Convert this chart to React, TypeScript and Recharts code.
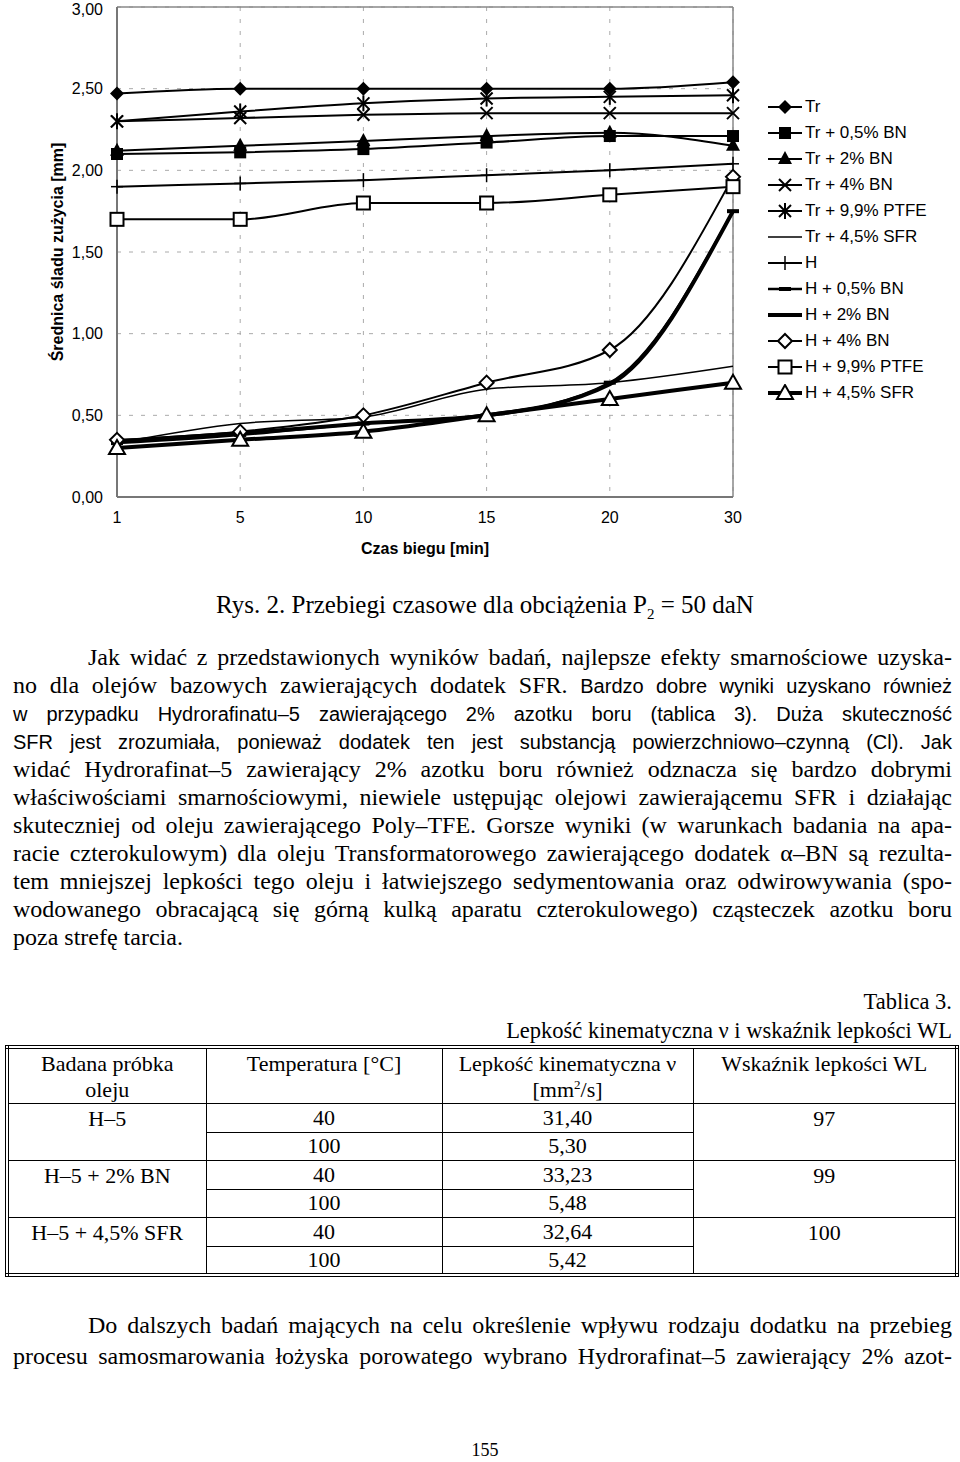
import { LineChart, Line, XAxis, YAxis, CartesianGrid, ReferenceLine } from "recharts";

const times = ["1", "5", "10", "15", "20", "30"];
const yTicks = [0, 0.5, 1, 1.5, 2, 2.5, 3];

const tr = [2.47, 2.5, 2.5, 2.5, 2.5, 2.54];
const tr05BN = [2.1, 2.11, 2.13, 2.17, 2.21, 2.21];
const tr2BN = [2.12, 2.15, 2.18, 2.21, 2.23, 2.15];
const tr4BN = [2.3, 2.32, 2.34, 2.35, 2.35, 2.35];
const tr99PTFE = [2.3, 2.36, 2.41, 2.44, 2.45, 2.46];
const tr45SFR = [0.33, 0.45, 0.49, 0.66, 0.7, 0.8];
const h = [1.9, 1.92, 1.94, 1.97, 2.0, 2.04];
const h05BN = [0.33, 0.38, 0.45, 0.5, 0.7, 1.75];
const h2BN = [0.34, 0.39, 0.45, 0.5, 0.69, 1.75];
const h4BN = [0.35, 0.4, 0.5, 0.7, 0.9, 1.96];
const h99PTFE = [1.7, 1.7, 1.8, 1.8, 1.85, 1.9];
const h45SFR = [0.3, 0.35, 0.4, 0.5, 0.6, 0.7];

const series = [
  { key: "tr", label: "Tr", values: tr, marker: "diamondFill", width: 2 },
  { key: "tr05BN", label: "Tr + 0,5% BN", values: tr05BN, marker: "squareFill", width: 2 },
  { key: "tr2BN", label: "Tr + 2% BN", values: tr2BN, marker: "triangleFill", width: 2 },
  { key: "tr4BN", label: "Tr + 4% BN", values: tr4BN, marker: "x", width: 2 },
  { key: "tr99PTFE", label: "Tr + 9,9% PTFE", values: tr99PTFE, marker: "star", width: 2 },
  { key: "tr45SFR", label: "Tr + 4,5% SFR", values: tr45SFR, marker: "none", width: 1.5 },
  { key: "h", label: "H", values: h, marker: "plus", width: 2 },
  { key: "h05BN", label: "H + 0,5% BN", values: h05BN, marker: "dash", width: 2.5 },
  { key: "h2BN", label: "H + 2% BN", values: h2BN, marker: "none", width: 4 },
  { key: "h4BN", label: "H + 4% BN", values: h4BN, marker: "diamondOpen", width: 2 },
  { key: "h99PTFE", label: "H + 9,9% PTFE", values: h99PTFE, marker: "squareOpen", width: 2 },
  { key: "h45SFR", label: "H + 4,5% SFR", values: h45SFR, marker: "triangleOpen", width: 4 },
];

const data = times.map((t, i) => {
  const row: any = { t };
  series.forEach((s) => (row[s.key] = s.values[i]));
  return row;
});

const Marker = ({ kind, cx, cy }: { kind: string; cx: number; cy: number }) => {
  if (cx == null || cy == null) return null;
  switch (kind) {
    case "diamondFill":
      return <polygon points={`${cx},${cy - 7} ${cx + 7},${cy} ${cx},${cy + 7} ${cx - 7},${cy}`} fill="#000" />;
    case "squareFill":
      return <rect x={cx - 6} y={cy - 6} width={12} height={12} fill="#000" />;
    case "triangleFill":
      return <polygon points={`${cx},${cy - 8} ${cx + 7},${cy + 5} ${cx - 7},${cy + 5}`} fill="#000" />;
    case "x":
      return (
        <g stroke="#000" strokeWidth={2}>
          <line x1={cx - 6} y1={cy - 6} x2={cx + 6} y2={cy + 6} />
          <line x1={cx - 6} y1={cy + 6} x2={cx + 6} y2={cy - 6} />
        </g>
      );
    case "star":
      return (
        <g stroke="#000" strokeWidth={2}>
          <line x1={cx - 6} y1={cy - 6} x2={cx + 6} y2={cy + 6} />
          <line x1={cx - 6} y1={cy + 6} x2={cx + 6} y2={cy - 6} />
          <line x1={cx} y1={cy - 8} x2={cx} y2={cy + 8} />
        </g>
      );
    case "plus":
      return (
        <g stroke="#000" strokeWidth={1.5}>
          <line x1={cx} y1={cy - 7} x2={cx} y2={cy + 7} />
          <line x1={cx - 6} y1={cy} x2={cx + 6} y2={cy} />
        </g>
      );
    case "dash":
      return <rect x={cx - 6} y={cy - 2} width={12} height={4} fill="#000" />;
    case "diamondOpen":
      return (
        <polygon
          points={`${cx},${cy - 7} ${cx + 7},${cy} ${cx},${cy + 7} ${cx - 7},${cy}`}
          fill="#fff"
          stroke="#000"
          strokeWidth={2}
        />
      );
    case "squareOpen":
      return <rect x={cx - 6.5} y={cy - 6.5} width={13} height={13} fill="#fff" stroke="#000" strokeWidth={2} />;
    case "triangleOpen":
      return (
        <polygon
          points={`${cx},${cy - 8} ${cx + 8},${cy + 6} ${cx - 8},${cy + 6}`}
          fill="#fff"
          stroke="#000"
          strokeWidth={2}
        />
      );
    default:
      return null;
  }
};

const Chart = () => (
  <div style={{ position: "absolute", left: 0, top: 0, fontFamily: "'Liberation Sans', Arial, sans-serif" }}>
    <LineChart width={760} height={560} data={data} margin={{ top: 7, right: 27, left: 0, bottom: 3 }}>
      <CartesianGrid stroke="#aaa" strokeDasharray="4 8" />
      <XAxis
        dataKey="t"
        scale="point"
        padding={{ left: 0, right: 0 }}
        axisLine={{ stroke: "#777", strokeWidth: 2 }}
        tickLine={false}
        tick={{ fill: "#000", fontSize: 16 }}
        tickMargin={9}
        height={60}
      />
      <YAxis
        domain={[0, 3]}
        ticks={yTicks}
        tickFormatter={(v: number) => v.toFixed(2).replace(".", ",")}
        axisLine={{ stroke: "#777", strokeWidth: 2 }}
        tickLine={false}
        tick={{ fill: "#000", fontSize: 16 }}
        tickMargin={8}
        width={117}
      />
      <ReferenceLine y={3} stroke="#888" strokeWidth={1.5} />
      <ReferenceLine x="30" stroke="#888" strokeWidth={1.5} />
      {series.map((s) => (
        <Line
          key={s.key}
          type="monotone"
          dataKey={s.key}
          stroke="#000"
          strokeWidth={s.width}
          isAnimationActive={false}
          dot={
            s.marker === "none"
              ? false
              : (p: any) => <Marker key={`${s.key}-${p.index}`} kind={s.marker} cx={p.cx} cy={p.cy} />
          }
          activeDot={false}
        />
      ))}
    </LineChart>
    <div
      style={{
        position: "absolute",
        left: 58,
        top: 252,
        transform: "translate(-50%, -50%) rotate(-90deg)",
        whiteSpace: "nowrap",
        fontWeight: "bold",
        fontSize: 16,
      }}
    >
      Średnica śladu zużycia [mm]
    </div>
    <div
      style={{
        position: "absolute",
        left: 425,
        top: 549,
        transform: "translate(-50%, -50%)",
        whiteSpace: "nowrap",
        fontWeight: "bold",
        fontSize: 16,
      }}
    >
      Czas biegu [min]
    </div>
    <div style={{ position: "absolute", left: 766, top: 94 }}>
      {series.map((s) => (
        <div key={s.key} style={{ display: "flex", alignItems: "center", height: 26 }}>
          <svg width={38} height={18}>
            <line x1={2} y1={9} x2={36} y2={9} stroke="#000" strokeWidth={s.width} />
            <Marker kind={s.marker} cx={19} cy={9} />
          </svg>
          <span style={{ fontSize: 17, marginLeft: 1, whiteSpace: "nowrap" }}>{s.label}</span>
        </div>
      ))}
    </div>
  </div>
);

const sans = { fontFamily: "'Liberation Sans Narrow', 'Arial Narrow', 'Liberation Sans', sans-serif", fontSize: 20 };

const TextLine = ({ top, indent, last, children }: any) => (
  <div
    style={{
      position: "absolute",
      left: 13,
      width: 939 - (indent ? 75 : 0),
      paddingLeft: indent ? 75 : 0,
      top,
      height: 28,
      lineHeight: "28px",
      fontSize: 24,
      whiteSpace: "nowrap",
      textAlign: last ? "left" : "justify",
      textAlignLast: last ? "left" : "justify",
    }}
  >
    {children}
  </div>
);

const cell: any = {
  border: "1px solid #000",
  textAlign: "center",
  verticalAlign: "top",
  padding: "2px 4px 0",
  lineHeight: "26px",
};
const numCell: any = { ...cell, padding: 0, verticalAlign: "middle" };

const App = () => {
  const p1 = [
    <>Jak widać z przedstawionych wyników badań, najlepsze efekty smarnościowe uzyska-</>,
    <>
      no dla olejów bazowych zawierających dodatek SFR. <span style={sans}>Bardzo dobre wyniki uzyskano również</span>
    </>,
    <span style={sans}>w przypadku Hydrorafinatu–5 zawierającego 2% azotku boru (tablica 3). Duża skuteczność</span>,
    <span style={sans}>SFR jest zrozumiała, ponieważ dodatek ten jest substancją powierzchniowo–czynną (Cl). Jak</span>,
    <>widać Hydrorafinat–5 zawierający 2% azotku boru również odznacza się bardzo dobrymi</>,
    <>właściwościami smarnościowymi, niewiele ustępując olejowi zawierającemu SFR i działając</>,
    <>skuteczniej od oleju zawierającego Poly–TFE. Gorsze wyniki (w warunkach badania na apa-</>,
    <>racie czterokulowym) dla oleju Transformatorowego zawierającego dodatek α–BN są rezulta-</>,
    <>tem mniejszej lepkości tego oleju i łatwiejszego sedymentowania oraz odwirowywania (spo-</>,
    <>wodowanego obracającą się górną kulką aparatu czterokulowego) cząsteczek azotku boru</>,
    <>poza strefę tarcia.</>,
  ];
  const rows = [
    ["H–5", "40", "31,40", "97", "100", "5,30"],
    ["H–5 + 2% BN", "40", "33,23", "99", "100", "5,48"],
    ["H–5 + 4,5% SFR", "40", "32,64", "100", "100", "5,42"],
  ];
  return (
    <div
      style={{
        position: "relative",
        width: 960,
        height: 1462,
        background: "#fff",
        color: "#000",
        fontFamily: "'Liberation Serif', 'Times New Roman', serif",
        overflow: "hidden",
      }}
    >
      <style>{"body{margin:0}"}</style>
      <Chart />
      <div
        style={{ position: "absolute", left: 0, width: 970, top: 590, textAlign: "center", fontSize: 25, lineHeight: "30px" }}
      >
        Rys. 2. Przebiegi czasowe dla obciążenia P<sub style={{ fontSize: 15, lineHeight: 0 }}>2</sub> = 50 daN
      </div>
      {p1.map((c, i) => (
        <TextLine key={i} top={643 + i * 28} indent={i === 0} last={i === p1.length - 1}>
          {c}
        </TextLine>
      ))}
      <div style={{ position: "absolute", right: 8, top: 988, fontSize: 22.5, lineHeight: "28px" }}>Tablica 3.</div>
      <div style={{ position: "absolute", right: 8, top: 1017, fontSize: 22.5, lineHeight: "28px" }}>
        Lepkość kinematyczna ν i wskaźnik lepkości WL
      </div>
      <table
        style={{
          position: "absolute",
          left: 5,
          top: 1045,
          width: 950,
          borderCollapse: "collapse",
          border: "4px double #000",
          fontSize: 22,
          tableLayout: "fixed",
        }}
      >
        <colgroup>
          <col style={{ width: 199 }} />
          <col style={{ width: 236 }} />
          <col style={{ width: 251 }} />
          <col style={{ width: 264 }} />
        </colgroup>
        <tbody>
          <tr style={{ height: 56 }}>
            <td style={cell}>
              Badana próbka
              <br />
              oleju
            </td>
            <td style={cell}>Temperatura [°C]</td>
            <td style={cell}>
              Lepkość kinematyczna ν
              <br />
              [mm<sup style={{ fontSize: 13, lineHeight: 0 }}>2</sup>/s]
            </td>
            <td style={cell}>Wskaźnik lepkości WL</td>
          </tr>
          {rows.map((r) => [
            <tr key={r[0] + "a"} style={{ height: 28.5 }}>
              <td style={cell} rowSpan={2}>
                {r[0]}
              </td>
              <td style={numCell}>{r[1]}</td>
              <td style={numCell}>{r[2]}</td>
              <td style={cell} rowSpan={2}>
                {r[3]}
              </td>
            </tr>,
            <tr key={r[0] + "b"} style={{ height: 28.5 }}>
              <td style={numCell}>{r[4]}</td>
              <td style={numCell}>{r[5]}</td>
            </tr>,
          ])}
        </tbody>
      </table>
      <TextLine top={1311} indent>
        Do dalszych badań mających na celu określenie wpływu rodzaju dodatku na przebieg
      </TextLine>
      <TextLine top={1342}>
        procesu samosmarowania łożyska porowatego wybrano Hydrorafinat–5 zawierający 2% azot-
      </TextLine>
      <div style={{ position: "absolute", left: 0, width: 970, top: 1440, textAlign: "center", fontSize: 18 }}>155</div>
    </div>
  );
};

export default App;
